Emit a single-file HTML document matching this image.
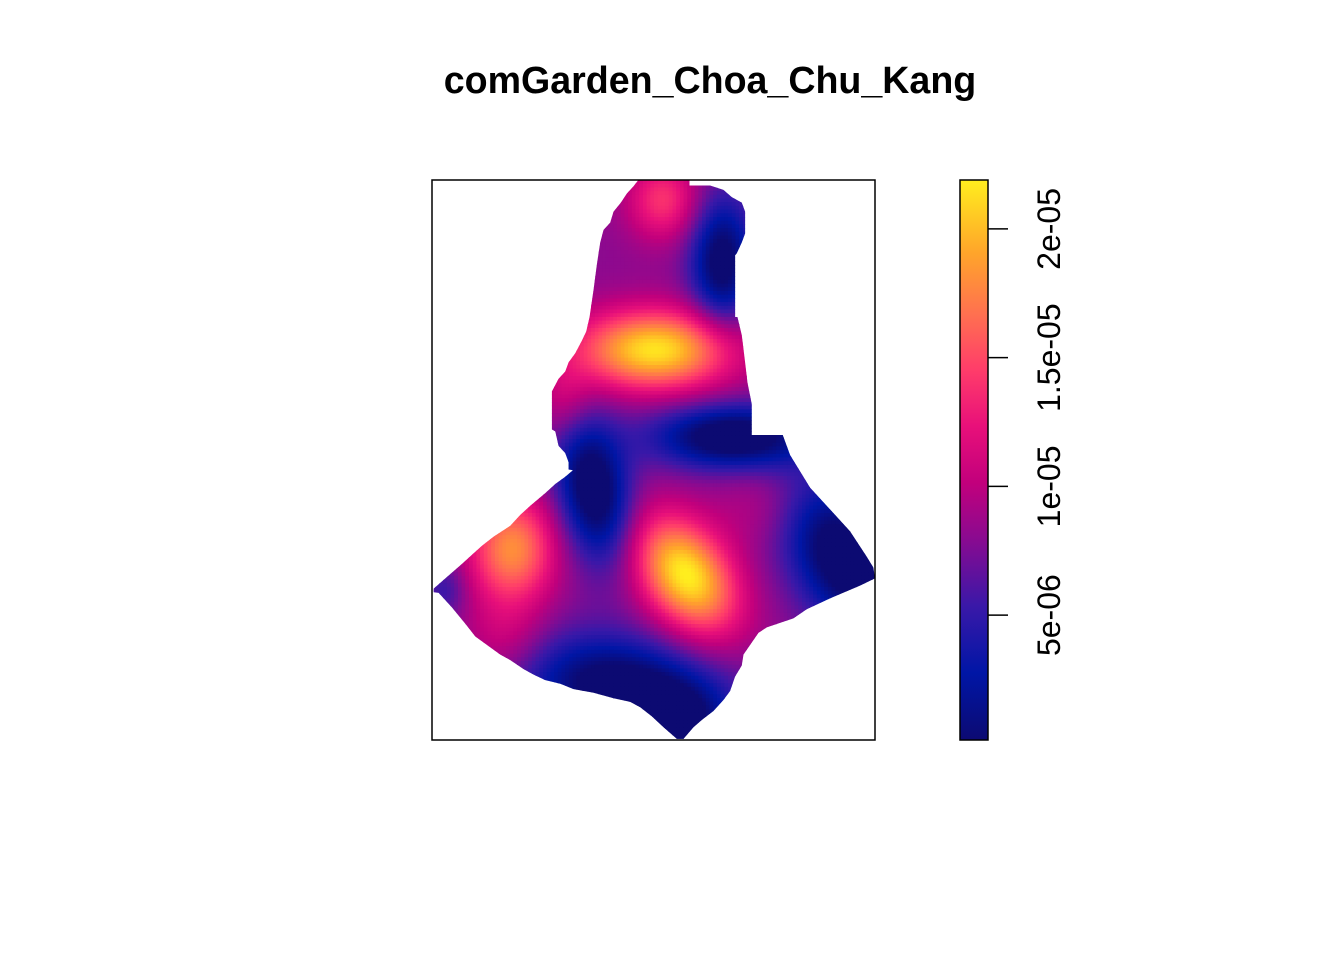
<!DOCTYPE html>
<html><head><meta charset="utf-8"><style>
html,body{margin:0;padding:0;background:#fff;}
svg{display:block;font-family:"Liberation Sans",Arial,sans-serif;}
</style></head><body>
<svg id="chart" width="1344" height="960" viewBox="0 0 1344 960">
<text x="710" y="93" text-anchor="middle" font-weight="bold" style="font-size:37.6px">comGarden_Choa_Chu_Kang</text>
<defs>
<clipPath id="region-clip">
<polygon id="region-poly" transform="translate(432,179) scale(0.3331,0.3631) translate(-5,-10)" points="625,12 778,12 778,28 840,28 880,40 905,60 935,75 945,100 945,160 935,185 920,215 915,220 915,390 922,390 935,440 945,515 952,570 965,630 965,715 1058,715 1080,770 1140,860 1200,920 1260,980 1310,1050 1330,1080 1335,1110 1290,1130 1200,1165 1130,1195 1090,1220 1010,1245 985,1260 940,1320 935,1350 915,1380 900,1420 880,1445 850,1475 815,1500 790,1520 760,1552 740,1552 700,1520 665,1490 630,1465 600,1450 550,1440 490,1425 430,1415 390,1400 345,1390 310,1375 280,1360 240,1335 210,1320 180,1300 135,1270 105,1235 65,1190 25,1150 10,1148 10,1138 45,1110 95,1070 125,1045 155,1020 190,995 240,965 270,935 300,910 345,875 375,850 405,830 428,812 415,810 415,790 405,765 385,745 375,705 365,700 365,595 385,560 405,540 415,515 435,490 455,455 468,430 478,390 490,315 500,245 510,185 520,150 540,130 550,100 572,75 590,50 610,30"/>
</clipPath>
<linearGradient id="cbar-grad" x1="0" y1="1" x2="0" y2="0">
<stop offset="0" stop-color="#0c0a72"/>
<stop offset="0.12" stop-color="#0016a6"/>
<stop offset="0.24" stop-color="#3a18a8"/>
<stop offset="0.36" stop-color="#8a0a90"/>
<stop offset="0.46" stop-color="#c2007c"/>
<stop offset="0.56" stop-color="#e8107a"/>
<stop offset="0.66" stop-color="#ff3c6a"/>
<stop offset="0.76" stop-color="#ff7050"/>
<stop offset="0.87" stop-color="#ffa52a"/>
<stop offset="1" stop-color="#ffee1e"/>
</linearGradient>
</defs>
<g id="raster" clip-path="url(#region-clip)"></g>
<rect x="432" y="180" width="443" height="560" fill="none" stroke="#000" stroke-width="1.5"/>
<rect x="960" y="180" width="28" height="560" fill="url(#cbar-grad)" stroke="#000" stroke-width="1.5"/>
<g id="cbar-ticks"></g>
</svg>
<script>
// density surface: base level plus hot (positive) and cold (negative) spots
const baseValue = 8e-6;
const hotX = [655, 686, 512, 663, 565, 765, 505, 722, 594, 732, 625, 845, 680, 445];
const hotY = [350, 575, 549, 200, 400, 505, 640, 262, 490, 437, 690, 560, 725, 590];
const hotAmp = [1.35e-5, 1.4e-5, 1.0e-5, 6e-6, 3e-6, 2e-6, 3e-6, -9e-6, -1e-5, -1e-5, -1e-5, -1e-5, -5e-6, -3e-6];
const hotSx = [55, 30, 30, 25, 20, 35, 30, 22, 25, 55, 70, 35, 30, 15];
const hotSy = [28, 45, 38, 28, 30, 30, 30, 45, 50, 22, 35, 60, 25, 20];
const hotRot = [0, -35, 0, 0, 0, -20, 0, 0, -10, 0, 10, -30, 0, 0];
const tickValues = [5e-6, 1e-5, 1.5e-5, 2e-5];
const tickLabels = ["5e-06", "1e-05", "1.5e-05", "2e-05"];
const vMin = 1.5e-7, vMax = 2.19e-5;

const stops = [[0,[12,10,114]],[0.12,[0,22,166]],[0.24,[58,24,168]],[0.36,[138,10,144]],[0.46,[194,0,124]],[0.56,[232,16,122]],[0.66,[255,60,106]],[0.76,[255,112,80]],[0.87,[255,165,42]],[1,[255,238,30]]];
function colorAt(v){
  let t=Math.max(0,Math.min(1,(v-vMin)/(vMax-vMin)));
  for(let i=1;i<stops.length;i++){
    if(t<=stops[i][0]){
      const a=stops[i-1],b=stops[i],f=(t-a[0])/(b[0]-a[0]);
      return 'rgb('+a[1].map((c,k)=>Math.round(c+(b[1][k]-c)*f)).join(',')+')';
    }
  }
  return 'rgb(255,238,30)';
}
function density(x,y){
  let s=baseValue;
  for(let i=0;i<hotX.length;i++){
    const r=hotRot[i]*Math.PI/180, dx=x-hotX[i], dy=y-hotY[i];
    const u=dx*Math.cos(r)+dy*Math.sin(r), w=-dx*Math.sin(r)+dy*Math.cos(r);
    s+=hotAmp[i]*Math.exp(-0.5*(u*u/(hotSx[i]*hotSx[i])+w*w/(hotSy[i]*hotSy[i])));
  }
  return Math.max(vMin,s);
}
const NS='http://www.w3.org/2000/svg';
const g=document.getElementById('raster');
const cell=3.7;
for(let y=180;y<740;y+=cell){
  for(let x=432;x<875;x+=cell){
    const r=document.createElementNS(NS,'rect');
    r.setAttribute('x',x.toFixed(2));r.setAttribute('y',y.toFixed(2));
    r.setAttribute('width',(cell+0.4).toFixed(2));r.setAttribute('height',(cell+0.4).toFixed(2));
    r.setAttribute('fill',colorAt(density(x+cell/2,y+cell/2)));
    
    
    g.appendChild(r);
  }
}
const cbTop=180, cbBot=740;
function cbY(v){return cbBot-(v-vMin)/(vMax-vMin)*(cbBot-cbTop);}
const tg=document.getElementById('cbar-ticks');
tickValues.forEach((v,i)=>{
  const y=cbY(v);
  const l=document.createElementNS(NS,'line');
  l.setAttribute('x1',988);l.setAttribute('x2',1008);l.setAttribute('y1',y);l.setAttribute('y2',y);
  l.setAttribute('stroke','#000');l.setAttribute('stroke-width','1.5');
  
  
  tg.appendChild(l);
  const t=document.createElementNS(NS,'text');
  t.setAttribute('transform','translate(1060,'+y+') rotate(-90)');
  t.setAttribute('text-anchor','middle');t.setAttribute('font-size','32');
  t.textContent=tickLabels[i];
  
  
  tg.appendChild(t);
});
</script>
</body></html>
